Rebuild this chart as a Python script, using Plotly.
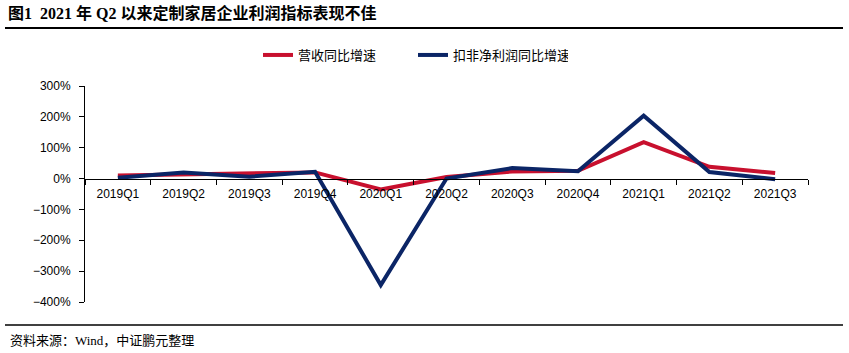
import plotly.graph_objects as go

categories = ["2019Q1", "2019Q2", "2019Q3", "2019Q4", "2020Q1", "2020Q2",
              "2020Q3", "2020Q4", "2021Q1", "2021Q2", "2021Q3"]
revenue_yoy = [10, 13, 17, 20, -35, 5, 23, 25, 118, 38, 18]
profit_yoy = [3, 20, 6, 22, -345, 0, 34, 24, 204, 21, -2]
y_ticks = [300, 200, 100, 0, -100, -200, -300, -400]
y_tick_labels = [("−" if v < 0 else "") + str(abs(v)) + "%" for v in y_ticks]

title_text = "图1  2021 年 Q2 以来定制家居企业利润指标表现不佳"
source_text = "资料来源：Wind，中证鹏元整理"

W, H = 849, 353
L, R, T, B = 85, 41, 86, 51

fig = go.Figure()
fig.add_trace(go.Scatter(x=categories, y=revenue_yoy, mode="lines", name="营收同比增速",
                         line=dict(color="#C8102E", width=4)))
fig.add_trace(go.Scatter(x=categories, y=profit_yoy, mode="lines", name="扣非净利润同比增速",
                         line=dict(color="#0B2566", width=4)))

ymin, ymax = -400, 300
zero_pos = (0 - ymin) / (ymax - ymin)

fig.update_layout(
    width=W, height=H,
    margin=dict(l=L, r=R, t=T, b=B),
    paper_bgcolor="white", plot_bgcolor="white",
    font=dict(family="Liberation Sans, Arial, Noto Sans CJK SC", size=12, color="black"),
    showlegend=True,
    legend=dict(orientation="h", x=-(L - 258) / (W - L - R), xanchor="left",
                y=1.0 + (T - 55) / (H - T - B), yanchor="middle",
                font=dict(family="Noto Sans CJK SC, Liberation Sans", size=13),
                itemwidth=30, entrywidth=110, entrywidthmode="pixels"),
    xaxis=dict(
        domain=[0, 1],
        anchor="free", position=zero_pos,
        showline=True, linecolor="black", linewidth=1,
        ticks="outside", ticklen=5, tickcolor="black", tickson="boundaries",
        showgrid=False, zeroline=False,
        tickfont=dict(size=12), ticklabelstandoff=4,
        range=[-0.5, len(categories) - 0.5],
    ),
    yaxis=dict(
        domain=[0, 1],
        range=[ymin, ymax],
        tickmode="array", tickvals=y_ticks, ticktext=y_tick_labels,
        showline=True, linecolor="black", linewidth=1,
        ticks="outside", ticklen=5, tickcolor="black",
        showgrid=False, zeroline=False,
        tickfont=dict(size=12), ticklabelstandoff=6,
    ),
    annotations=[
        dict(text="<b>" + title_text + "</b>", xref="paper", yref="paper",
             x=-(L - 6) / (W - L - R), y=1 + (T - 13) / (H - T - B),
             xanchor="left", yanchor="middle", showarrow=False,
             font=dict(family="Liberation Serif, Noto Sans CJK SC", size=16, color="black")),
        dict(text=source_text, xref="paper", yref="paper",
             x=-(L - 8) / (W - L - R), y=-(340 - (H - B)) / (H - T - B),
             xanchor="left", yanchor="middle", showarrow=False,
             font=dict(family="Liberation Serif, Noto Sans CJK SC", size=13, color="black")),
    ],
    shapes=[
        dict(type="line", xref="paper", yref="paper",
             x0=-(L - 5) / (W - L - R), x1=1 + (843 - (W - R)) / (W - L - R),
             y0=1 + (T - 28) / (H - T - B), y1=1 + (T - 28) / (H - T - B),
             line=dict(color="black", width=2)),
        dict(type="line", xref="paper", yref="paper",
             x0=-(L - 5) / (W - L - R), x1=1 + (843 - (W - R)) / (W - L - R),
             y0=-(325 - (H - B)) / (H - T - B), y1=-(325 - (H - B)) / (H - T - B),
             line=dict(color="black", width=1.5)),
    ],
)

fig.write_html("out.html")
